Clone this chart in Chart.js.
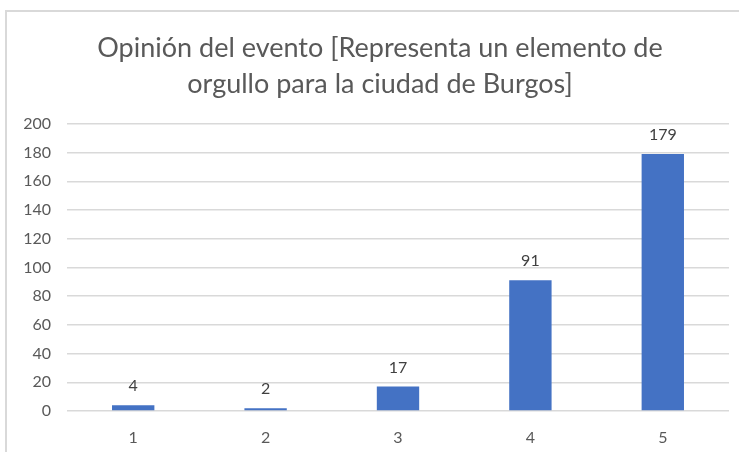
<!DOCTYPE html>
<html>
<head>
<meta charset="utf-8">
<script src="https://cdn.jsdelivr.net/npm/chart.js@4"></script>
<style>
  html, body { margin: 0; padding: 0; background: #fff; overflow: hidden; }
  #frame {
    position: absolute; left: 5px; top: 10px; width: 800px; height: 500px;
    border-top: 2px solid #d9d9d9; border-left: 2px solid #d9d9d9;
  }
  #wrap { position: absolute; left: 0; top: 0; width: 739px; height: 452px; }
</style>
</head>
<body>
<div id="frame"></div>
<div id="wrap"><canvas id="chart"></canvas></div>
<script>
// Chart data
const categories = ['1', '2', '3', '4', '5'];
const counts = [4, 2, 17, 91, 179];
const titleLines = ['Opinión del evento [Representa un elemento de', 'orgullo para la ciudad de Burgos]'];

const FONT = 'Lato, "Open Sans", sans-serif';

// draws the value above every bar
const barValues = {
    id: 'barValues',
    afterDatasetsDraw(chart) {
        const ctx = chart.ctx;
        const meta = chart.getDatasetMeta(0);
        ctx.save();
        ctx.font = '16px ' + FONT;
        ctx.fillStyle = '#404040';
        ctx.textAlign = 'center';
        ctx.textBaseline = 'middle';
        meta.data.forEach((bar, i) => {
            ctx.fillText(String(counts[i]), bar.x, bar.y - 19);
        });
        ctx.restore();
    }
};

// title sits a bit right of the canvas centre in the original
const shiftTitle = {
    id: 'shiftTitle',
    afterLayout(chart) {
        if (chart.titleBlock) chart.titleBlock.left += 31;
    }
};

const ctx = document.getElementById('chart').getContext('2d');
new Chart(ctx, {
    type: 'bar',
    data: {
        labels: categories,
        datasets: [{
            data: counts,
            backgroundColor: '#4472C4',
            borderWidth: 0,
            categoryPercentage: 1,
            barPercentage: 0.32
        }]
    },
    options: {
        responsive: true,
        maintainAspectRatio: false,
        animation: false,
        layout: { padding: { top: 30, right: 10, left: 0, bottom: 0 } },
        plugins: {
            legend: { display: false },
            tooltip: { enabled: false },
            title: {
                display: true,
                text: titleLines,
                color: '#595959',
                font: { family: FONT, size: 27, weight: 'normal', lineHeight: 1.33 },
                padding: { top: 0, bottom: 22 }
            }
        },
        scales: {
            x: {
                grid: { display: false },
                border: { display: false },
                ticks: { color: '#595959', font: { family: FONT, size: 16 }, padding: 9 },
                afterFit: s => { s.height = 41; }
            },
            y: {
                min: 0,
                max: 200,
                ticks: { stepSize: 20, color: '#595959', font: { family: FONT, size: 16 }, padding: 16 },
                grid: { color: '#d9d9d9', lineWidth: 1.5, drawTicks: false },
                border: { display: false },
                afterFit: s => { s.width = 67; }
            }
        }
    },
    plugins: [barValues, shiftTitle]
});
</script>
</body>
</html>
